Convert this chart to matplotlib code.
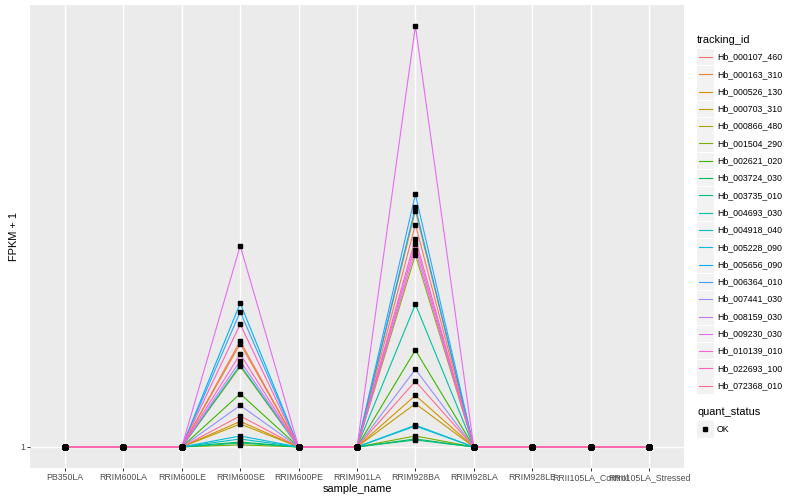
import matplotlib
matplotlib.use("Agg")
import matplotlib.pyplot as plt
from matplotlib.lines import Line2D
from matplotlib.patches import Rectangle
import math

plt.rcParams['font.family'] = ['Liberation Sans', 'DejaVu Sans']

samples = ['PB350LA', 'RRIM600LA', 'RRIM600LE', 'RRIM600SE', 'RRIM600PE', 'RRIM901LA',
           'RRIM928BA', 'RRIM928LA', 'RRIM928LE', 'RRII105LA_Control', 'RRII105LA_Stressed']

tracking_ids = ['Hb_000107_460', 'Hb_000163_310', 'Hb_000526_130', 'Hb_000703_310',
                'Hb_000866_480', 'Hb_001504_290', 'Hb_002621_020', 'Hb_003724_030',
                'Hb_003735_010', 'Hb_004693_030', 'Hb_004918_040', 'Hb_005228_090',
                'Hb_005656_090', 'Hb_006364_010', 'Hb_007441_030', 'Hb_008159_030',
                'Hb_009230_030', 'Hb_010139_010', 'Hb_022693_100', 'Hb_072368_010']

# FPKM + 1 in RRIM600SE and RRIM928BA (all other samples are 1)
se_values = [1.66, 1.64, 1.13, 1.116, 1.47, 1.010, 1.29, 1.024, 1.019, 1.48,
             1.039, 1.054, 1.99, 1.91, 1.22, 1.51, 2.62, 1.56, 1.80, 1.16]
ba_values = [2.90, 3.10, 1.28, 1.23, 2.51, 1.054, 1.59, 1.039, 1.034, 1.98,
             1.11, 1.105, 3.15, 3.35, 1.45, 2.57, 7.50, 2.64, 2.71, 1.37]

colors = ["#F8766D", "#EA8331", "#D89000", "#C09B00", "#A3A500", "#7CAE00", "#39B600",
          "#00BB4E", "#00BF7D", "#00C1A3", "#00BFC4", "#00BAE0", "#00B0F6", "#35A2FF",
          "#9590FF", "#C77CFF", "#E76BF3", "#FA62DB", "#FF62BC", "#FF6C90"]

W, H = 800, 500
fig = plt.figure(figsize=(8, 5), dpi=100)
ax = fig.add_axes([30 / W, 1 - 468 / H, 654 / W, 463 / H])
ax.set_facecolor('#EBEBEB')
for s in ax.spines.values():
    s.set_visible(False)

xs = list(range(len(samples)))
se_idx = samples.index('RRIM600SE')
ba_idx = samples.index('RRIM928BA')
for i, tid in enumerate(tracking_ids):
    ys = [1.0] * len(samples)
    ys[se_idx] = se_values[i]
    ys[ba_idx] = ba_values[i]
    ax.plot(xs, ys, color=colors[i], lw=0.8, zorder=2)
    ax.plot(xs, ys, 's', color='black', ms=2.6, zorder=3)

ax.set_yscale('log')
lo, hi = 0.0, math.log10(max(ba_values + se_values))
pad = (hi - lo) * 0.05
ax.set_ylim(10 ** (lo - pad), 10 ** (hi + pad))
ax.set_xlim(-0.6, len(samples) - 0.4)
ax.set_yticks([1])
ax.set_yticklabels(['1'])
ax.yaxis.set_minor_locator(matplotlib.ticker.NullLocator())
ax.set_xticks(xs)
ax.set_xticklabels(samples)
ax.grid(True, color='white', lw=1.0, zorder=0)
ax.set_axisbelow(True)
ax.tick_params(axis='both', length=2.0, width=0.7, color='#333333', labelcolor='#4D4D4D',
               labelsize=6.3, pad=1.6)
ax.set_xlabel('sample_name', fontsize=7.9, labelpad=1.5)
ax.set_ylabel('FPKM + 1', fontsize=7.9, labelpad=1)

# legends drawn in figure pixels, ggplot style
def fy(y):
    return 1 - y / H

fig.text(697 / W, fy(40), 'tracking_id', fontsize=7.9, va='center', ha='left')
for i, tid in enumerate(tracking_ids):
    yc = 57 + i * 17.3
    fig.add_artist(Rectangle((697 / W, fy(yc + 8.3)), 16.5 / W, 16.6 / H,
                             transform=fig.transFigure, facecolor='#F2F2F2', edgecolor='none'))
    fig.add_artist(Line2D([698.5 / W, 711.5 / W], [fy(yc), fy(yc)], color=colors[i], lw=0.8,
                          transform=fig.transFigure))
    fig.text(717 / W, fy(yc), tid, fontsize=6.3, va='center', ha='left')

fig.text(697 / W, fy(412), 'quant_status', fontsize=7.9, va='center', ha='left')
fig.add_artist(Rectangle((697 / W, fy(437.5)), 16.5 / W, 16.6 / H,
                         transform=fig.transFigure, facecolor='#F2F2F2', edgecolor='none'))
fig.add_artist(Line2D([705.2 / W], [fy(429)], marker='s', color='black', ms=2.6,
                      transform=fig.transFigure))
fig.text(717 / W, fy(429), 'OK', fontsize=6.3, va='center', ha='left')

fig.savefig('out.png', dpi=100)
